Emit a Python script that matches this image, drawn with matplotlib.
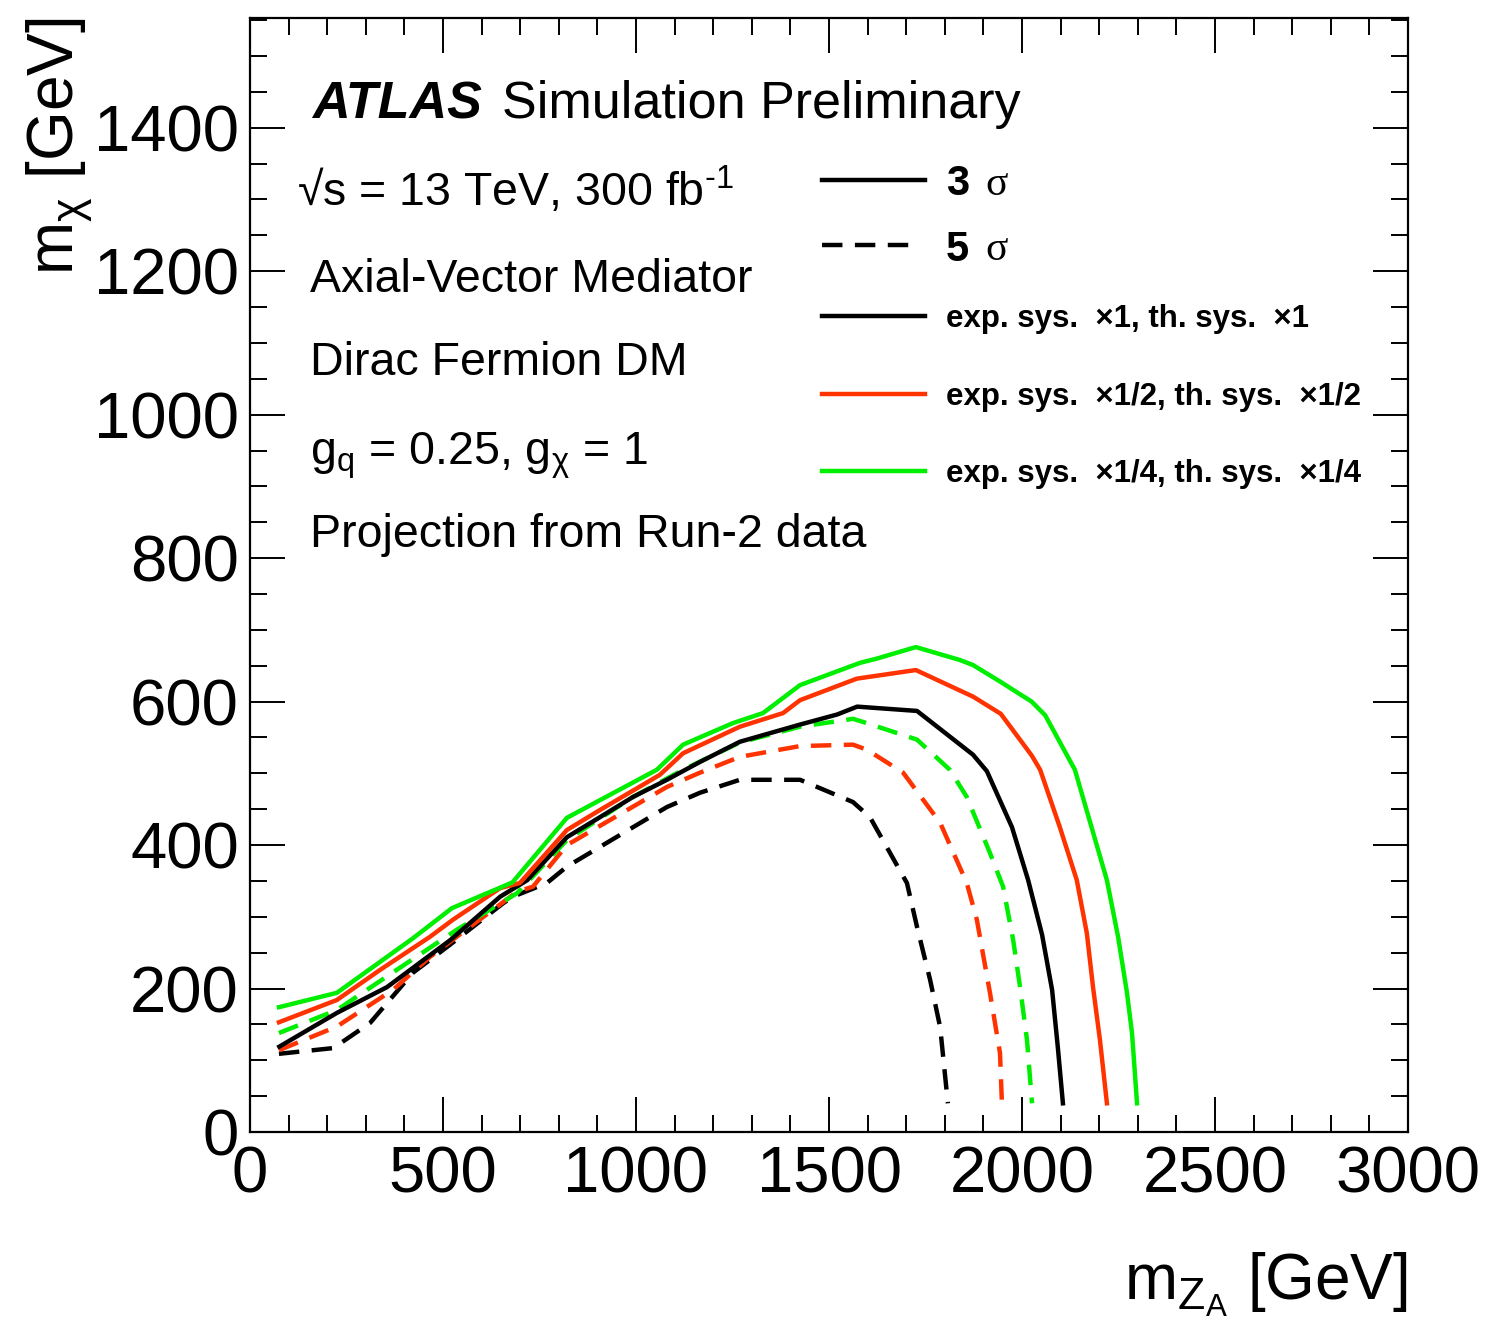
import matplotlib
matplotlib.use("Agg")
import matplotlib.pyplot as plt
from matplotlib.ticker import MultipleLocator

plt.rcParams['font.family'] = ['Liberation Sans', 'DejaVu Sans']
plt.rcParams['mathtext.fontset'] = 'custom'
plt.rcParams['mathtext.rm'] = 'Liberation Sans'
plt.rcParams['mathtext.it'] = 'Liberation Sans:italic'
plt.rcParams['mathtext.bf'] = 'Liberation Sans:bold'

# Contours in the (m_ZA, m_chi) plane, GeV
# 3 sigma, exp. sys. x1, th. sys. x1
mz_3s_x1 = [76, 225, 355, 430, 520, 648, 718, 821, 907, 992, 1080, 1166, 1269,
            1425, 1521, 1573, 1728, 1873, 1909, 1974, 2016, 2052, 2078, 2093, 2106]
mx_3s_x1 = [119, 166, 202, 232, 268, 328, 351, 411, 439, 467, 491, 516, 544,
            568, 582, 593, 587, 526, 503, 425, 351, 275, 198, 117, 40]
# 3 sigma, x1/2
mz_3s_x2 = [75, 225, 337, 466, 526, 648, 699, 821, 907, 1062, 1122, 1269, 1381,
            1425, 1572, 1725, 1873, 1945, 2025, 2047, 2098, 2142, 2168, 2184, 2202, 2220]
mx_3s_x2 = [153, 184, 226, 272, 296, 340, 347, 421, 449, 498, 528, 565, 584,
            602, 632, 644, 607, 583, 525, 505, 425, 351, 277, 202, 128, 40]
# 3 sigma, x1/4
mz_3s_x4 = [75, 225, 422, 523, 680, 821, 1054, 1122, 1251, 1329, 1425, 1580, 1624,
            1725, 1839, 1873, 1943, 2025, 2060, 2137, 2220, 2249, 2272, 2285, 2298]
mx_3s_x4 = [174, 194, 270, 312, 348, 438, 505, 540, 570, 584, 623, 654, 660,
            676, 658, 651, 628, 600, 581, 505, 351, 272, 194, 138, 40]
# 5 sigma, x1
mz_5s_x1 = [75, 216, 311, 422, 518, 656, 681, 769, 821, 1080, 1166, 1269, 1425,
            1562, 1606, 1702, 1728, 1762, 1788, 1808]
mx_5s_x1 = [109, 117, 152, 222, 261, 319, 328, 347, 370, 453, 473, 491, 491,
            460, 439, 347, 286, 212, 146, 40]
# 5 sigma, x1/2
mz_5s_x2 = [75, 225, 370, 466, 570, 692, 733, 821, 1080, 1166, 1269, 1425, 1562,
            1598, 1692, 1788, 1857, 1883, 1917, 1943, 1948]
mx_5s_x2 = [114, 147, 198, 244, 286, 335, 342, 400, 481, 501, 523, 538, 540,
            533, 501, 431, 347, 296, 194, 110, 40]
# 5 sigma, x1/4
mz_5s_x4 = [75, 225, 380, 536, 692, 821, 992, 1122, 1269, 1425, 1562, 1598, 1728,
            1813, 1857, 1917, 1951, 1977, 1995, 2013, 2026]
mx_5s_x4 = [138, 170, 226, 282, 333, 407, 467, 505, 543, 565, 576, 570, 547,
            505, 467, 389, 342, 268, 202, 128, 40]

BLACK = '#000000'
RED = '#ff3300'
GREEN = '#00ee00'
LW = 3.2
DASH = (0, (4.6, 2.8))

fig = plt.figure(figsize=(14.85, 13.30), dpi=100)
ax = fig.add_axes([250/1485, 1 - 1132/1330, 1158/1485, 1114/1330])

ax.plot(mz_5s_x1, mx_5s_x1, color=BLACK, lw=LW, ls=DASH)
ax.plot(mz_5s_x2, mx_5s_x2, color=RED, lw=LW, ls=DASH)
ax.plot(mz_5s_x4, mx_5s_x4, color=GREEN, lw=LW, ls=DASH)
ax.plot(mz_3s_x1, mx_3s_x1, color=BLACK, lw=LW)
ax.plot(mz_3s_x2, mx_3s_x2, color=RED, lw=LW)
ax.plot(mz_3s_x4, mx_3s_x4, color=GREEN, lw=LW)

ax.set_xlim(0, 3000)
ax.set_ylim(0, 1553)
ax.xaxis.set_major_locator(MultipleLocator(500))
ax.xaxis.set_minor_locator(MultipleLocator(100))
ax.yaxis.set_major_locator(MultipleLocator(200))
ax.yaxis.set_minor_locator(MultipleLocator(50))
ax.tick_params(which='both', direction='in', top=True, right=True, width=1.4)
ax.tick_params(which='major', length=25, labelsize=47)
ax.tick_params(which='minor', length=12.5)
ax.tick_params(axis='x', pad=10)
ax.tick_params(axis='y', pad=8)
for s in ax.spines.values():
    s.set_linewidth(1.6)

fig.text(1408/1485, 1 - 1300/1330, r'm$_{\mathregular{Z_A}}$ [GeV]',
         ha='right', va='baseline', fontsize=46)
fig.text(60/1485, 1 - 18/1330, r'm$_{\mathregular{χ}}$ [GeV]',
         ha='center', va='top', rotation=90, fontsize=46)

# Labels inside the frame
ax.text(0.0535, 0.910, 'ATLAS', transform=ax.transAxes, fontsize=37.5,
        fontweight='bold', fontstyle='italic', ha='left', va='baseline')
ax.text(0.0535 + 0.164, 0.910, 'Simulation Preliminary', transform=ax.transAxes,
        fontsize=37.5, ha='left', va='baseline')
info = [
    (0.0406, 0.831, '√s = 13 TeV, 300 fb$^{\\mathregular{‐1}}$'),
    (0.0518, 0.754, 'Axial-Vector Mediator'),
    (0.0518, 0.6795, 'Dirac Fermion DM'),
    (0.0518, 0.599, r'g$_{\mathregular{q}}$ = 0.25, g$_{\mathregular{χ}}$ = 1'),
    (0.0518, 0.525, 'Projection from Run-2 data'),
]
for x, y, s in info:
    ax.text(x, y, s, transform=ax.transAxes, fontsize=33.5, ha='left', va='baseline')

# Key
key_x0, key_x1, key_tx = 0.494, 0.583, 0.601
rows = [
    (0.8546, BLACK, '-', key_x1, None),
    (0.7962, BLACK, DASH, 0.575, None),
    (0.7325, BLACK, '-', key_x1, 'exp. sys.  ×1, th. sys.  ×1'),
    (0.6625, RED, '-', key_x1, 'exp. sys.  ×1/2, th. sys.  ×1/2'),
    (0.5934, GREEN, '-', key_x1, 'exp. sys.  ×1/4, th. sys.  ×1/4'),
]
for y, c, ls, xe, label in rows:
    ax.plot([key_x0, xe], [y, y], transform=ax.transAxes, color=c, lw=LW, ls=ls)
    if label:
        ax.text(key_tx, y, label, transform=ax.transAxes, fontsize=22.5,
                fontweight='bold', ha='left', va='center_baseline')
for y, n in [(0.8546, '3'), (0.7962, '5')]:
    ax.text(key_tx, y, n, transform=ax.transAxes, fontsize=30,
            fontweight='bold', ha='left', va='center_baseline')
    ax.text(key_tx + 0.034, y, 'σ', transform=ax.transAxes, fontsize=30,
            family=['Liberation Serif'], ha='left', va='center_baseline')

fig.savefig('out.png', dpi=100, facecolor='white')
